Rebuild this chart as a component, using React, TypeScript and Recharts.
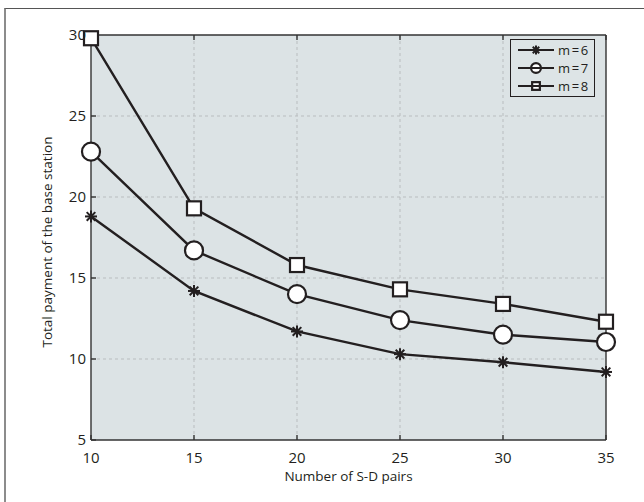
// @ts-nocheck
import React from 'react';
import { LineChart, Line, XAxis, YAxis, CartesianGrid, Legend } from 'recharts';

const X_VALUES = [10, 15, 20, 25, 30, 35];
const M6 = [18.8, 14.2, 11.7, 10.3, 9.8, 9.2];
const M7 = [22.8, 16.7, 14.0, 12.4, 11.5, 11.05];
const M8 = [29.8, 19.3, 15.8, 14.3, 13.4, 12.3];
const X_TICKS = [10, 15, 20, 25, 30, 35];
const Y_TICKS = [5, 10, 15, 20, 25, 30];

const SERIES = [
  { key: 'm6', label: 'm=6', marker: 'star' },
  { key: 'm7', label: 'm=7', marker: 'circle' },
  { key: 'm8', label: 'm=8', marker: 'square' },
];

const INK = '#231f20';
const FONT = '"Open Sans", "Noto Sans", sans-serif';

const chartData = X_VALUES.map((x, i) => ({ x, m6: M6[i], m7: M7[i], m8: M8[i] }));

function Marker({ cx, cy, type, scale = 1 }) {
  if (cx == null || cy == null) return null;
  if (type === 'circle') {
    const r = 9 * scale;
    return <circle cx={cx} cy={cy} r={r} fill="#fff" stroke={INK} strokeWidth={2.2} />;
  }
  if (type === 'square') {
    const h = 7 * scale;
    return <rect x={cx - h} y={cy - h} width={2 * h} height={2 * h} fill="#fff" stroke={INK} strokeWidth={2.2} />;
  }
  const s = 6 * scale;
  const d = s * 0.72;
  return (
    <g stroke={INK} strokeWidth={2}>
      <line x1={cx - s} y1={cy} x2={cx + s} y2={cy} />
      <line x1={cx} y1={cy - s} x2={cx} y2={cy + s} />
      <line x1={cx - d} y1={cy - d} x2={cx + d} y2={cy + d} />
      <line x1={cx - d} y1={cy + d} x2={cx + d} y2={cy - d} />
    </g>
  );
}

function LegendBox() {
  return (
    <div
      style={{
        border: `1px solid ${INK}`,
        background: '#dde4e6',
        padding: '1px 4px 1px 6px',
        fontFamily: FONT,
        fontSize: 13,
        color: INK,
        lineHeight: '18px',
      }}
    >
      {SERIES.map((s) => (
        <div key={s.key} style={{ display: 'flex', alignItems: 'center', height: 18 }}>
          <svg width={38} height={16}>
            <Marker cx={19} cy={8} type={s.marker} scale={s.marker === 'star' ? 0.75 : 0.55} />
            <line x1={1} y1={8} x2={37} y2={8} stroke={INK} strokeWidth={2.2} />
          </svg>
          <span style={{ marginLeft: 3, letterSpacing: 1.6 }}>{s.label}</span>
        </div>
      ))}
    </div>
  );
}

const tickStyle = { fontSize: 15, fill: INK, fontFamily: FONT };
const axisLineStyle = { stroke: '#333', strokeWidth: 1.4 };
const tickLineStyle = { stroke: '#333', strokeWidth: 1.4 };

export default function App() {
  return (
    <div style={{ position: 'absolute', left: 0, top: 0, width: 644, height: 502, background: '#fff', overflow: 'hidden' }}>
      <div
        style={{
          position: 'absolute',
          left: 4,
          top: 8,
          width: 660,
          height: 520,
          borderTop: '1.5px solid #555',
          borderLeft: '2px solid #8c8c8c',
        }}
      />
      <div style={{ position: 'absolute', left: 0, top: 0 }}>
        <LineChart width={644} height={502} data={chartData} margin={{ top: 34, right: 37, left: 0, bottom: 0 }}>
          <CartesianGrid
            fill="#dce3e5"
            stroke="#b9bdbf"
            strokeDasharray="3 3"
            horizontalValues={[10, 15, 20, 25]}
            verticalValues={[15, 20, 25, 30]}
          />
          <XAxis
            dataKey="x"
            type="number"
            domain={[10, 35]}
            ticks={X_TICKS}
            height={62}
            tickSize={-5}
            tickMargin={17}
            tick={tickStyle}
            axisLine={axisLineStyle}
            tickLine={tickLineStyle}
            label={{ value: 'Number of S-D pairs', position: 'insideBottom', offset: 21, style: { fontSize: 13.5, fill: INK, fontFamily: FONT } }}
          />
          <XAxis
            xAxisId="top"
            orientation="top"
            dataKey="x"
            type="number"
            domain={[10, 35]}
            ticks={X_TICKS}
            height={1}
            tickSize={-5}
            tick={<g />}
            axisLine={axisLineStyle}
            tickLine={tickLineStyle}
          />
          <YAxis
            type="number"
            domain={[5, 30]}
            ticks={Y_TICKS}
            width={91}
            tickSize={-5}
            tickMargin={10}
            tick={tickStyle}
            axisLine={axisLineStyle}
            tickLine={tickLineStyle}
            label={{ value: 'Total payment of the base station', angle: -90, position: 'insideLeft', offset: 47, dy: 110, style: { fontSize: 13.5, fill: INK, fontFamily: FONT } }}
          />
          <YAxis
            yAxisId="right"
            orientation="right"
            type="number"
            domain={[5, 30]}
            ticks={Y_TICKS}
            width={1}
            tickSize={-5}
            tick={<g />}
            axisLine={axisLineStyle}
            tickLine={tickLineStyle}
          />
          <Legend
            layout="horizontal"
            verticalAlign="middle"
            align="center"
            content={() => <LegendBox />}
            wrapperStyle={{ left: 510, top: 39, width: 'auto', height: 'auto' }}
          />
          {SERIES.map((s) => (
            <Line
              key={`${s.key}-markers`}
              dataKey={s.key}
              stroke="none"
              legendType="none"
              isAnimationActive={false}
              dot={(p) => <Marker key={`${s.key}-${p.index}`} cx={p.cx} cy={p.cy} type={s.marker} />}
              activeDot={false}
            />
          ))}
          {SERIES.map((s) => (
            <Line
              key={s.key}
              dataKey={s.key}
              name={s.label}
              stroke={INK}
              strokeWidth={2.4}
              dot={false}
              activeDot={false}
              isAnimationActive={false}
            />
          ))}
        </LineChart>
      </div>
    </div>
  );
}
